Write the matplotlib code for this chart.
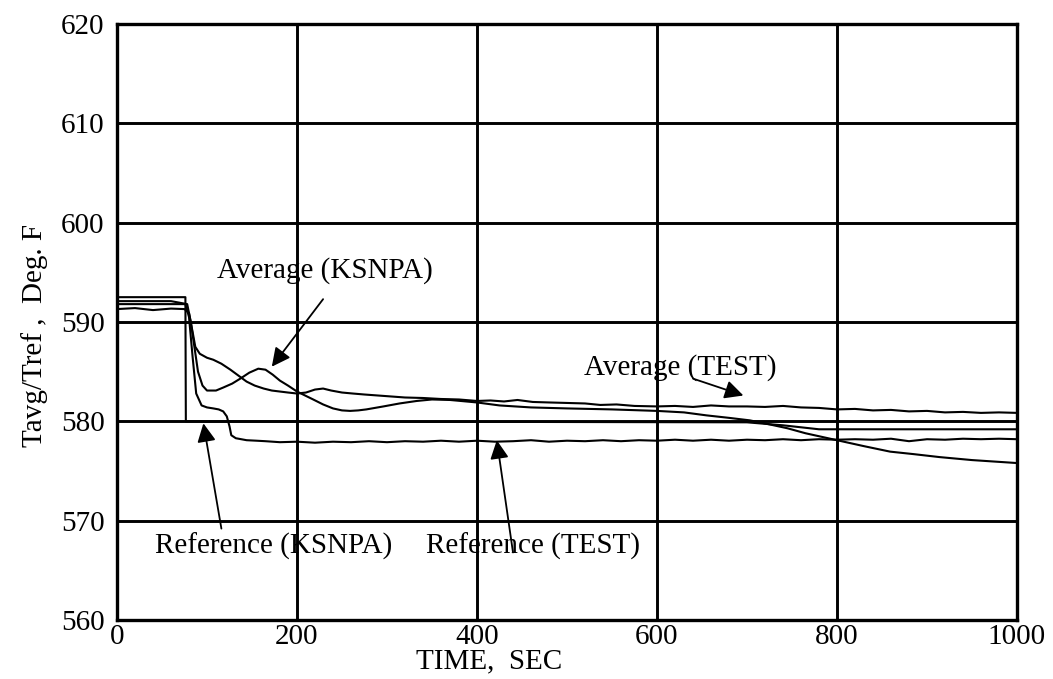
import matplotlib.pyplot as plt

plt.rcParams['font.family'] = ['Liberation Serif', 'DejaVu Serif']

# Reference (KSNPA): step down at the trip, then flat
ref_ksnpa_t = [0, 76, 76.5, 700, 740, 780, 1000]
ref_ksnpa_v = [592.5, 592.5, 580.0, 579.9, 579.6, 579.2, 579.2]

# Average (KSNPA)
avg_ksnpa_t = [0, 60, 78, 82, 86, 90, 95, 100, 110, 118, 128, 137, 147, 157, 165,
               173, 181, 190, 200, 209, 218, 229, 240, 250, 259, 268, 277, 296,
               314, 333, 350, 370, 400, 425, 460, 500, 550, 600, 630, 655, 680,
               703, 722, 745, 765, 785, 800, 830, 859, 885, 914, 950, 1000]
avg_ksnpa_v = [592.1, 592.1, 591.8, 590.0, 587.5, 585.0, 583.6, 583.1, 583.1, 583.4,
               583.8, 584.3, 584.9, 585.3, 585.2, 584.7, 584.1, 583.6, 583.0, 582.6,
               582.2, 581.7, 581.3, 581.1, 581.05, 581.1, 581.2, 581.5, 581.8, 582.05,
               582.2, 582.15, 581.9, 581.6, 581.4, 581.3, 581.2, 581.05, 580.9, 580.6,
               580.35, 580.1, 579.75, 579.3, 578.8, 578.4, 578.1, 577.5, 576.95, 576.7,
               576.4, 576.1, 575.8]

# Average (TEST)
avg_test_t = [0, 20, 40, 60, 75, 80, 84, 87, 92, 100, 107, 116, 126, 135, 144, 153,
              163, 172, 181, 190, 200, 210, 220, 229, 238, 250, 262, 275, 290, 305,
              320, 340, 360, 380, 400, 415, 430, 445, 462, 480, 500, 520, 537, 555,
              575, 600, 620, 640, 660, 680, 700, 720, 740, 760, 780, 800, 820, 840,
              860, 880, 900, 920, 940, 960, 980, 1000]
avg_test_v = [591.3, 591.4, 591.2, 591.35, 591.3, 590.9, 589.0, 587.5, 586.8, 586.4,
              586.2, 585.8, 585.2, 584.6, 584.0, 583.6, 583.3, 583.1, 583.0, 582.9,
              582.8, 582.9, 583.2, 583.3, 583.1, 582.9, 582.8, 582.7, 582.6, 582.5,
              582.4, 582.35, 582.25, 582.2, 582.05, 582.1, 582.0, 582.15, 581.95, 581.9,
              581.85, 581.8, 581.65, 581.7, 581.55, 581.5, 581.55, 581.45, 581.6, 581.5,
              581.5, 581.45, 581.55, 581.4, 581.35, 581.2, 581.25, 581.1, 581.15, 581.0,
              581.05, 580.9, 580.95, 580.85, 580.9, 580.85]

# Reference (TEST)
ref_test_t = [0, 30, 60, 76, 80, 84, 88, 94, 100, 107, 113, 118, 122, 125, 127, 132,
              138, 144, 155, 165, 181, 200, 220, 240, 260, 280, 300, 320, 340, 360,
              380, 400, 420, 440, 460, 480, 500, 520, 540, 560, 580, 600, 620, 640,
              660, 680, 700, 720, 740, 760, 780, 800, 820, 840, 860, 880, 900, 920,
              940, 960, 980, 1000]
ref_test_v = [591.8, 591.8, 591.8, 591.8, 590.5, 586.5, 582.8, 581.6, 581.4, 581.3,
              581.2, 581.0, 580.5, 579.5, 578.6, 578.3, 578.2, 578.1, 578.05, 578.0,
              577.9, 577.95, 577.85, 577.95, 577.9, 578.0, 577.9, 578.0, 577.95, 578.05,
              577.95, 578.05, 577.95, 578.0, 578.1, 577.95, 578.05, 578.0, 578.1, 578.0,
              578.1, 578.05, 578.15, 578.05, 578.15, 578.05, 578.15, 578.1, 578.2, 578.1,
              578.2, 578.15, 578.2, 578.15, 578.25, 578.0, 578.2, 578.15, 578.25, 578.2,
              578.25, 578.2]

x_ticks = [0, 200, 400, 600, 800, 1000]
y_ticks = [560, 570, 580, 590, 600, 610, 620]

fig = plt.figure(figsize=(10.53, 6.79), dpi=100)
ax = fig.add_axes([117 / 1053, 1 - 620 / 679, 900 / 1053, 596 / 679])

for t, v in [(ref_ksnpa_t, ref_ksnpa_v), (avg_ksnpa_t, avg_ksnpa_v),
             (avg_test_t, avg_test_v), (ref_test_t, ref_test_v)]:
    ax.plot(t, v, color='black', lw=1.5, zorder=3)

ax.set_xlim(0, 1000)
ax.set_ylim(560, 620)
ax.set_xticks(x_ticks)
ax.set_yticks(y_ticks)
ax.grid(True, color='black', lw=2.1)
ax.set_axisbelow(True)
for s in ax.spines.values():
    s.set_linewidth(2.4)
ax.tick_params(axis='both', length=0, labelsize=21)
ax.tick_params(axis='y', pad=9)
ax.tick_params(axis='x', pad=3)

ax.set_xlabel('TIME,  SEC', fontsize=21)
ax.xaxis.set_label_coords(0.414, -0.048)
ax.set_ylabel('Tavg/Tref ,  Deg. F', fontsize=21)
ax.yaxis.set_label_coords(-0.077, 0.478)

arrow = dict(arrowstyle='-|>', color='black', lw=1.3, mutation_scale=28,
             shrinkA=0, shrinkB=0)
ax.text(231, 595.2, 'Average (KSNPA)', fontsize=21, ha='center', va='center')
ax.annotate('', xy=(172, 585.5), xytext=(229, 592.3), arrowprops=arrow)
ax.text(626, 585.4, 'Average (TEST)', fontsize=21, ha='center', va='center')
ax.annotate('', xy=(696, 582.6), xytext=(640, 584.3), arrowprops=arrow)
ax.text(174, 567.4, 'Reference (KSNPA)', fontsize=21, ha='center', va='center')
ax.annotate('', xy=(96, 579.8), xytext=(116, 569.2), arrowprops=arrow)
ax.text(462, 567.4, 'Reference (TEST)', fontsize=21, ha='center', va='center')
ax.annotate('', xy=(422, 578.1), xytext=(440, 566.8), arrowprops=arrow)

fig.savefig('out.png', dpi=100)
